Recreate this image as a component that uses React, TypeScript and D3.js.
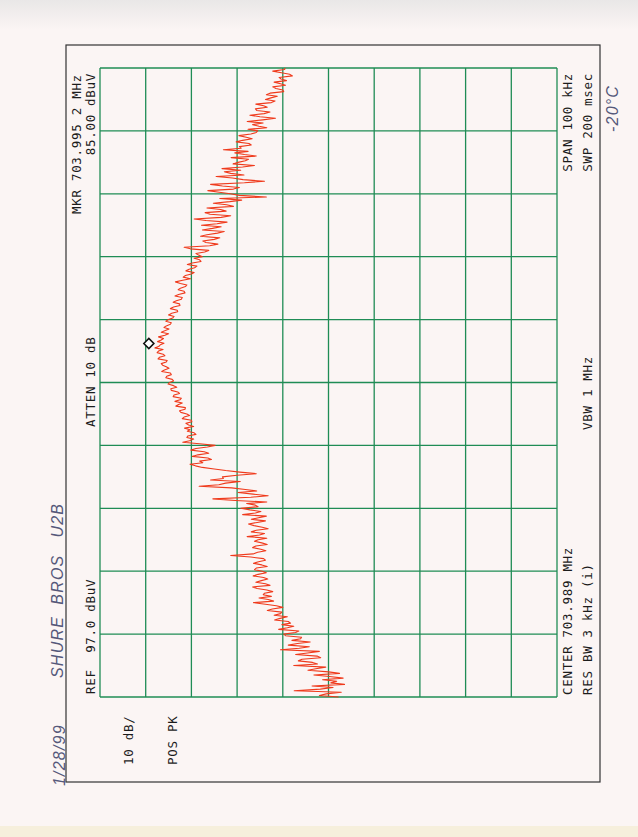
import { scaleLinear, line, range } from "d3";

// sweep settings (kHz / dBuV)
const centerKHz = 703989;
const spanKHz = 100;
const refLevel = 97;
const dbPerDiv = 10;
const divisions = 10;

// trace, low frequency -> high frequency, dBuV (401 pts)
const traceDbuv = [
  44.8, 49.0, 47.5, 44.2, 54.5, 48.8, 46.0, 50.6, 43.5, 46.5,
  45.2, 48.3, 43.8, 46.8, 50.2, 44.6, 47.0, 51.5, 49.8, 47.6,
  54.6, 49.4, 50.5, 53.6, 52.8, 48.7, 49.5, 54.2, 51.6, 49.0,
  57.5, 53.4, 51.2, 55.8, 53.8, 51.0, 55.0, 53.1, 52.9, 56.4,
  56.8, 54.2, 53.5, 57.9, 56.0, 54.6, 57.2, 55.3, 55.8, 58.8,
  57.6, 56.0, 58.9, 57.5, 57.2, 60.4, 59.3, 57.0, 58.4, 60.8,
  63.4, 59.0, 60.2, 62.2, 59.5, 61.3, 61.0, 59.2, 60.5, 62.6,
  63.6, 59.8, 60.8, 62.9, 61.7, 60.3, 61.2, 63.5, 62.4, 60.6,
  61.5, 63.2, 62.8, 60.4, 61.6, 63.4, 62.3, 60.8, 61.2, 64.0,
  68.4, 63.5, 62.5, 60.7, 61.8, 63.6, 62.9, 60.4, 61.6, 63.2,
  62.4, 60.5, 64.8, 62.1, 61.0, 63.9, 62.8, 60.2, 61.5, 63.3,
  64.5, 62.6, 60.8, 63.9, 62.3, 60.6, 65.8, 63.0, 61.8, 64.2,
  66.2, 62.4, 63.0, 64.9, 60.5, 67.4, 72.3, 64.0, 60.2, 63.5,
  66.8, 62.7, 65.2, 68.2, 75.3, 71.0, 69.5, 66.3, 72.8, 70.0,
  70.2, 67.0, 62.8, 66.4, 69.5, 72.0, 74.6, 76.1, 77.3, 74.5,
  75.2, 72.6, 73.4, 76.8, 75.6, 73.2, 74.2, 77.1, 76.0, 73.5,
  71.8, 75.2, 78.9, 77.4, 76.5, 78.0, 77.8, 76.0, 76.4, 77.9,
  77.3, 78.5, 76.5, 77.6, 78.2, 76.9, 77.0, 79.0, 78.6, 77.4,
  78.0, 79.3, 79.6, 78.4, 78.3, 80.4, 79.8, 79.0, 80.6, 79.5,
  79.2, 81.0, 80.8, 79.6, 80.0, 81.4, 81.5, 80.2, 80.9, 82.1,
  81.8, 80.9, 81.2, 82.6, 82.4, 81.4, 81.6, 83.5, 82.9, 81.9,
  82.5, 83.3, 83.6, 82.5, 82.3, 84.3, 84.0, 82.8, 83.2, 84.5,
  84.2, 83.2, 85.0, 84.1, 83.8, 83.0, 84.4, 83.6, 83.1, 84.2,
  82.8, 82.0, 83.6, 82.7, 81.9, 83.0, 82.5, 81.6, 81.4, 82.6,
  82.0, 81.1, 80.8, 82.0, 81.3, 80.0, 80.1, 81.6, 80.9, 79.5,
  79.6, 81.0, 80.3, 79.2, 79.0, 80.6, 79.8, 78.4, 78.6, 79.9,
  79.4, 78.3, 78.0, 79.4, 80.5, 78.9, 77.2, 78.8, 78.3, 77.0,
  76.4, 78.2, 77.5, 76.3, 75.8, 77.9, 76.8, 74.9, 75.2, 76.4,
  74.6, 75.4, 76.0, 74.1, 73.2, 77.2, 78.6, 73.0, 71.2, 73.8,
  74.5, 72.0, 70.8, 75.0, 73.6, 71.3, 69.8, 74.6, 72.4, 70.5,
  74.8, 71.4, 69.2, 73.8, 76.4, 70.5, 68.4, 72.9, 74.0, 69.4,
  70.6, 73.6, 67.8, 69.3, 72.2, 68.6, 66.0, 70.8, 60.6, 66.5,
  68.5, 70.9, 73.4, 67.8, 66.5, 70.2, 72.8, 65.4, 61.0, 65.7,
  68.0, 71.6, 65.5, 68.4, 69.8, 66.2, 70.3, 65.8, 63.2, 67.9,
  66.8, 65.2, 64.5, 68.3, 62.8, 65.4, 67.5, 64.6, 70.0, 66.1,
  66.5, 63.9, 64.4, 67.2, 65.8, 63.7, 65.0, 66.6, 64.0, 62.8,
  62.5, 64.6, 60.5, 62.2, 63.6, 61.3, 64.8, 61.4, 58.6, 62.0,
  64.2, 61.1, 59.8, 62.7, 63.0, 60.4, 61.2, 62.9, 59.5, 58.7,
  60.8, 59.6, 58.2, 60.6, 59.8, 56.8, 57.0, 58.5, 59.2, 56.4,
  57.5, 58.9, 56.2, 57.4, 57.8, 54.9, 55.5, 57.3, 59.2, 56.6,
  56.5,
];

const markerKHz = 703995.2;
const markerDbuv = 85.0;

// annotation texts, grouped by where the instrument prints them
const leftTop = ["MKR 703.995 2 MHz", "85.00 dBuV"];
const leftMid = ["ATTEN 10 dB"];
const leftBottom = ["REF  97.0 dBuV"];
const sideLabels = ["10 dB/", "POS PK"];
const rightBottom = ["CENTER 703.989 MHz", "RES BW 3 kHz (i)"];
const rightMid = ["VBW 1 MHz"];
const rightTop = ["SPAN 100 kHz", "SWP 200 msec"];
const handNotes = ["SHURE  BROS   U2B", "1/28/99", "-20°C"];

const W = 638;
const H = 837;
const grid = { left: 100, right: 557, top: 68, bottom: 697 };

const mono = "'DejaVu Sans Mono', monospace";
const hand = "'Liberation Sans', sans-serif";

// vertical text reading bottom -> top, centred on x
const VText = ({
  x,
  y,
  children,
  anchor = "start",
  size = 12.5,
  font = mono,
  fill = "#1c1c1c",
  italic = false,
}: {
  x: number;
  y: number;
  children: string;
  anchor?: string;
  size?: number;
  font?: string;
  fill?: string;
  italic?: boolean;
}) => (
  <text
    transform={`translate(${x},${y}) rotate(-90)`}
    textAnchor={anchor}
    dominantBaseline="central"
    fontFamily={font}
    fontSize={size}
    fontStyle={italic ? "italic" : "normal"}
    letterSpacing={font === mono ? 0.7 : 1.2}
    fill={fill}
    xmlSpace="preserve"
  >
    {children}
  </text>
);

export default function App() {
  // frequency runs up the page, amplitude runs left (ref) to right
  const y = scaleLinear()
    .domain([centerKHz - spanKHz / 2, centerKHz + spanKHz / 2])
    .range([grid.bottom, grid.top]);
  const x = scaleLinear()
    .domain([refLevel, refLevel - dbPerDiv * divisions])
    .range([grid.left, grid.right]);

  const step = spanKHz / (traceDbuv.length - 1);
  const freqs = traceDbuv.map((_, i) => centerKHz - spanKHz / 2 + i * step);

  const path = line<number>()
    .x((d) => x(d))
    .y((_, i) => y(freqs[i]))(traceDbuv);

  const levelLines = range(divisions + 1).map((i) => refLevel - i * dbPerDiv);
  const freqLines = range(divisions + 1).map(
    (i) => centerKHz - spanKHz / 2 + (i * spanKHz) / divisions
  );

  const mx = x(markerDbuv) - 6;
  const my = y(markerKHz);
  const ds = 5;

  return (
    <svg
      width={W}
      height={H}
      viewBox={`0 0 ${W} ${H}`}
      style={{ position: "absolute", left: 0, top: 0 }}
    >
      <defs>
        <linearGradient id="shade" x1="0" y1="0" x2="0" y2="1">
          <stop offset="0" stopColor="#e9e7e7" />
          <stop offset="1" stopColor="#fbf5f4" />
        </linearGradient>
      </defs>
      <rect width={W} height={H} fill="#fbf5f4" />
      <rect width={W} height={30} fill="url(#shade)" />
      <rect y={826} width={W} height={H - 826} fill="#f6efdc" />

      {/* outer frame */}
      <rect
        x={66}
        y={45}
        width={534}
        height={737}
        fill="none"
        stroke="#333"
        strokeWidth={1.2}
      />

      {/* graticule */}
      <g stroke="#1f8c55" strokeWidth={1.3}>
        {levelLines.map((d) => (
          <line key={`v${d}`} x1={x(d)} x2={x(d)} y1={grid.top} y2={grid.bottom} />
        ))}
        {freqLines.map((f) => (
          <line key={`h${f}`} x1={grid.left} x2={grid.right} y1={y(f)} y2={y(f)} />
        ))}
      </g>

      {/* trace */}
      <path
        d={path ?? ""}
        fill="none"
        stroke="#ef3a1c"
        strokeWidth={1.1}
        strokeLinejoin="round"
      />

      {/* marker */}
      <path
        d={`M${mx - ds},${my} L${mx},${my - ds} L${mx + ds},${my} L${mx},${my + ds} Z`}
        fill="#fff"
        stroke="#111"
        strokeWidth={1.6}
      />

      {/* instrument annotations */}
      <VText x={76} y={214}>{leftTop[0]}</VText>
      <VText x={90} y={73} anchor="end">{leftTop[1]}</VText>
      <VText x={90} y={427}>{leftMid[0]}</VText>
      <VText x={90} y={694}>{leftBottom[0]}</VText>
      <VText x={128} y={765}>{sideLabels[0]}</VText>
      <VText x={172} y={765}>{sideLabels[1]}</VText>
      <VText x={567} y={695}>{rightBottom[0]}</VText>
      <VText x={587} y={695}>{rightBottom[1]}</VText>
      <VText x={587} y={430}>{rightMid[0]}</VText>
      <VText x={567} y={73} anchor="end">{rightTop[0]}</VText>
      <VText x={587} y={73} anchor="end">{rightTop[1]}</VText>

      {/* handwritten notes */}
      <VText x={57} y={678} size={16} font={hand} fill="#55587a" italic>
        {handNotes[0]}
      </VText>
      <VText x={59} y={786} size={16} font={hand} fill="#55587a" italic>
        {handNotes[1]}
      </VText>
      <VText x={612} y={132} size={16} font={hand} fill="#55587a" italic>
        {handNotes[2]}
      </VText>
    </svg>
  );
}
